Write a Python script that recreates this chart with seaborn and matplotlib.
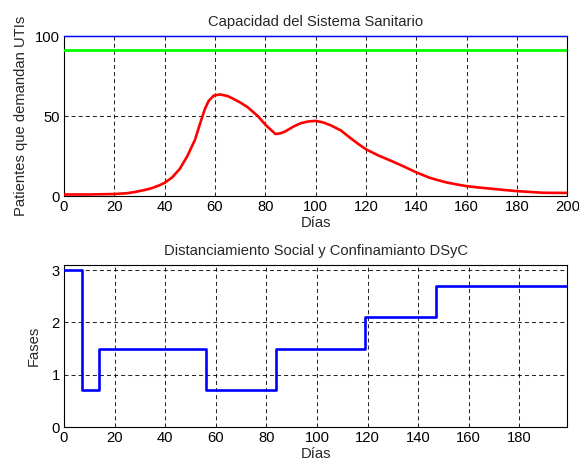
import matplotlib
matplotlib.use("Agg")
import matplotlib.pyplot as plt
import seaborn as sns
import pandas as pd

# ICU demand over time (patients)
dias_uti = [0, 10, 20, 25, 28, 32, 35, 38, 40, 43, 46, 49, 52, 54, 56, 57.5,
            59.5, 62, 65, 67, 70, 73, 77, 80, 84, 86, 88, 91, 94, 97, 100, 103,
            106, 110, 114, 117, 120, 125, 130, 135, 140, 145, 148, 152, 156,
            160, 165, 170, 175, 180, 185, 190, 195, 200]
pacientes_uti = [1.0, 1.0, 1.3, 1.8, 2.5, 3.8, 5.0, 6.8, 8.3, 11.7, 17.0, 25.0,
                 35.0, 45.0, 54.5, 59.5, 62.8, 63.5, 62.5, 61.0, 58.5, 55.5,
                 50.0, 44.6, 38.8, 39.2, 40.5, 43.3, 45.5, 46.6, 47.0, 46.0,
                 44.2, 41.0, 36.0, 32.5, 29.2, 25.3, 22.0, 18.5, 14.8, 11.6,
                 10.2, 8.5, 7.3, 6.2, 5.3, 4.6, 3.8, 3.1, 2.6, 2.1, 2.0, 2.0]

# Health system capacity levels
capacidad_total = 100
capacidad_uti = 91

# Social distancing / lockdown phases (value holds until next change)
dias_fase = [0, 7, 14, 56, 84, 119, 147, 199]
nivel_fase = [3, 0.7, 1.5, 0.7, 1.5, 2.1, 2.7, 2.7]

xticks_top = list(range(0, 201, 20))
xticks_bot = list(range(0, 181, 20))
yticks_top = [0, 50, 100]
yticks_bot = [0, 1, 2, 3]

FS = 10.6

sns.set_theme(style="white", rc={"lines.scale_dashes": False})
plt.rcParams["font.family"] = ["Liberation Sans", "DejaVu Sans"]
plt.rcParams["font.size"] = FS

fig = plt.figure(figsize=(5.79, 4.68), dpi=100, facecolor="white")
ax1 = fig.add_axes([0.1105, 0.581, 0.8695, 0.342])
ax2 = fig.add_axes([0.1105, 0.0876, 0.8695, 0.3464])

grid_kw = dict(color="black", linewidth=0.75, linestyle=(0, (2.9, 2.2)), alpha=0.85)

def style_axes(ax):
    for s in ax.spines.values():
        s.set_color("black")
        s.set_linewidth(0.8)
        s.set_visible(True)
    ax.tick_params(direction="in", length=3.5, width=0.8, color="black",
                   labelsize=FS, labelcolor="black", pad=3.0,
                   top=False, right=False)
    ax.grid(True, **grid_kw)
    ax.set_axisbelow(True)

# Top panel
df_uti = pd.DataFrame({"Días": dias_uti, "UTI": pacientes_uti})
sns.lineplot(data=df_uti, x="Días", y="UTI", ax=ax1, color="#ff0000",
             linewidth=1.9, zorder=3)
sns.lineplot(x=[0, 200], y=[capacidad_total, capacidad_total], ax=ax1,
             color="#0000ff", linewidth=1.0, zorder=4, clip_on=False)
sns.lineplot(x=[0, 200], y=[capacidad_uti, capacidad_uti], ax=ax1,
             color="#00ff00", linewidth=2.0, zorder=3)
ax1.set_xlim(0, 200)
ax1.set_ylim(0, 100)
ax1.set_xticks(xticks_top)
ax1.set_yticks(yticks_top)
style_axes(ax1)
ax1.set_title("Capacidad del Sistema Sanitario", fontsize=FS, pad=7)
ax1.set_xlabel("Días", fontsize=FS, labelpad=1)
ax1.set_ylabel("Patientes que demandan UTIs", fontsize=FS, labelpad=5)

# Bottom panel
df_fase = pd.DataFrame({"Días": dias_fase, "Fases": nivel_fase})
sns.lineplot(data=df_fase, x="Días", y="Fases", ax=ax2, color="#0000ff",
             linewidth=1.9, drawstyle="steps-post", zorder=3)
ax2.set_xlim(0, 199)
ax2.set_ylim(0, 3.1)
ax2.set_xticks(xticks_bot)
ax2.set_yticks(yticks_bot)
style_axes(ax2)
ax2.set_title("Distanciamiento Social y Confinamianto DSyC", fontsize=FS, pad=7)
ax2.set_xlabel("Días", fontsize=FS, labelpad=1)
ax2.set_ylabel("Fases", fontsize=FS, labelpad=8)

fig.savefig("out.png", dpi=100, facecolor="white")
